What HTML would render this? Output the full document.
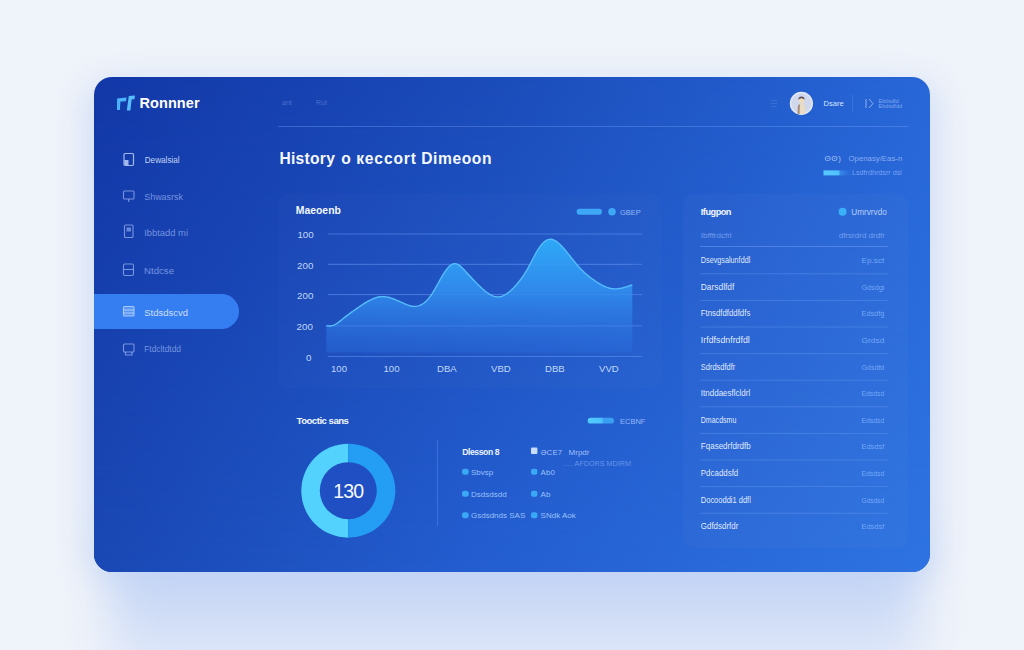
<!DOCTYPE html>
<html><head><meta charset="utf-8">
<style>
*{margin:0;padding:0;box-sizing:border-box}
html,body{width:1024px;height:650px;overflow:hidden}
body{background:#eff3fa;font-family:"Liberation Sans",sans-serif;position:relative}
.glow{position:absolute;left:110px;top:530px;width:810px;height:150px;border-radius:40px;background:linear-gradient(180deg,#b3c9f2 0%,#cddbf6 50%,#e4ebf9 100%);filter:blur(22px)}
.glow2{position:absolute;left:84px;top:80px;width:856px;height:500px;border-radius:30px;background:#d4e0f6;filter:blur(14px)}
.card{position:absolute;left:94px;top:77px;width:836px;height:495px;border-radius:18px;overflow:hidden;
 background:linear-gradient(90deg,rgb(19,56,168) 0%,rgb(27,76,186) 48%,rgb(39,101,214) 96%,rgb(40,103,216) 100%)}
.card2{position:absolute;left:0;top:0;width:100%;height:100%;
 background:linear-gradient(90deg,rgb(26,72,180) 0%,rgb(36,94,208) 46%,rgb(45,113,223) 95%,rgb(46,115,225) 100%);
 -webkit-mask-image:linear-gradient(180deg,rgba(0,0,0,0) 0%,rgba(0,0,0,1) 100%);mask-image:linear-gradient(180deg,rgba(0,0,0,0) 0%,rgba(0,0,0,1) 100%)}
.pill{position:absolute;left:0;top:217px;width:145px;height:35px;border-radius:0 17.5px 17.5px 0;background:#357ef2}
svg.o{position:absolute;left:0;top:0}
svg text{font-family:"Liberation Sans",sans-serif}
</style></head><body>
<div class="glow2"></div>
<div class="glow"></div>
<div class="card"><div class="card2"></div><div class="pill"></div></div>
<svg class="o" width="1024" height="650" viewBox="0 0 1024 650">
<path d="M117.1 98.5 L126.5 97.6 L126 101.3 L120.4 101.6 L119.9 110 L117 110 Z" fill="#4db5ff"/>
<path d="M128.8 96 L135 95.5 L134.4 99.2 L131.6 99.4 L130.4 110.6 L126.8 110.6 Z" fill="#56beff"/>
<text x="139.4" y="108.4" font-size="14.5" font-weight="bold" fill="#ffffff" style="letter-spacing:0.1px">Ronnner</text>
<text x="282" y="104.5" font-size="7" fill="rgba(170,195,255,.35)" font-weight="normal" >ant</text>
<text x="316" y="104.5" font-size="7" fill="rgba(170,195,255,.35)" font-weight="normal" >Rut</text>
<rect x="278" y="126" width="630" height="1" fill="rgba(120,165,255,.35)"/>
<text x="279.4" y="164.3" font-size="15.6" fill="#f4f8ff" font-weight="bold" style="letter-spacing:0.3px">History</text>
<text x="341.2" y="164.3" font-size="15.6" fill="#f4f8ff" font-weight="bold" style="letter-spacing:0px">o</text>
<text x="356.2" y="164.3" font-size="15.6" fill="#f4f8ff" font-weight="bold" style="letter-spacing:0.85px">кeccort</text>
<text x="421.2" y="164.3" font-size="15.6" fill="#f4f8ff" font-weight="bold" style="letter-spacing:0.6px">Dimeoon</text>
<rect x="771" y="100" width="6" height="1" fill="rgba(170,195,255,.18)"/><rect x="771" y="103" width="6" height="1" fill="rgba(170,195,255,.18)"/><rect x="771" y="106" width="6" height="1" fill="rgba(170,195,255,.18)"/>
<circle cx="801.4" cy="103.4" r="11.6" fill="#e3e8f6"/><circle cx="801.4" cy="103.4" r="10.2" fill="#d0d8ee"/>
<path d="M797.5 114 L797.8 106 Q799 103.5 801.5 103.5 Q804 103.5 805 106 L805.3 114 Z" fill="#e9dcc4"/>
<path d="M797.5 114 L797.8 106 Q798.5 104.5 800 104 L799.5 114 Z" fill="#8a6a60" opacity=".7"/>
<ellipse cx="801.5" cy="100.6" rx="2.6" ry="3.2" fill="#ecdcbc"/><path d="M798.4 99.8 Q798.4 96.6 801.5 96.6 Q804.6 96.6 804.6 99.8 Q803.3 98.2 801.5 98.3 Q799.7 98.2 798.4 99.8 Z" fill="#5a4a58"/>
<text x="823.5" y="106" font-size="7.6" fill="#d6e4ff" font-weight="normal" >Dsare</text>
<rect x="852" y="95" width="1" height="17" fill="rgba(130,170,255,.22)"/>
<path d="M866 99 L866 108 M869 99 L873 103.5 L869 108" stroke="rgba(190,210,255,.7)" stroke-width="1" fill="none"/>
<text x="878.5" y="103.3" font-size="5.6" fill="rgba(180,205,255,.65)" font-weight="normal" >Ebtlsdfd</text>
<text x="878.5" y="107.5" font-size="5.6" fill="rgba(180,205,255,.65)" font-weight="normal" >Ebdsdfdd</text>
<text x="824.5" y="160.6" font-size="8" fill="rgba(200,220,255,.85)" font-weight="normal" style="letter-spacing:0.6px">ʘʘ)</text>
<text x="848.5" y="160.6" font-size="7.8" fill="rgba(185,205,255,.7)" font-weight="normal" >Openasy/Eas-n</text>
<defs><linearGradient id="gb" x1="0" x2="1"><stop offset="0" stop-color="#55c9ff"/><stop offset=".56" stop-color="#50c2ff"/><stop offset=".58" stop-color="#3d9af2" stop-opacity=".7"/><stop offset="1" stop-color="#3a8cf0" stop-opacity="0"/></linearGradient></defs>
<rect x="823.5" y="170.4" width="28" height="5" fill="url(#gb)"/>
<text x="852" y="175.4" font-size="7.2" fill="rgba(140,180,255,.8)" font-weight="normal" >Lsdfrdhrdsrr dsl</text>
<rect x="278" y="194" width="383" height="194" rx="10" fill="rgba(255,255,255,.015)"/>
<text x="295.8" y="214.4" font-size="10.4" fill="#f2f7ff" font-weight="bold" style="letter-spacing:0px">Maeoenb</text>
<rect x="576.6" y="208.8" width="25.4" height="5.9" rx="2.95" fill="#3ea8f6"/>
<circle cx="612" cy="211.7" r="3.8" fill="#3ea8f6"/>
<text x="620" y="214.5" font-size="7.5" fill="rgba(180,205,255,.82)" font-weight="normal" >GBEP</text>
<rect x="328" y="233.5" width="314" height="1" fill="rgba(110,160,255,.45)"/>
<rect x="328" y="263.8" width="314" height="1" fill="rgba(110,160,255,.45)"/>
<rect x="328" y="294.1" width="314" height="1" fill="rgba(110,160,255,.45)"/>
<rect x="328" y="325.4" width="314" height="1" fill="rgba(110,160,255,.45)"/>
<rect x="328" y="356.0" width="314" height="1" fill="rgba(110,160,255,.45)"/>
<text x="297.4" y="238" font-size="9.8" fill="rgba(215,230,255,.9)" font-weight="normal" >100</text>
<text x="297" y="268.5" font-size="9.8" fill="rgba(215,230,255,.9)" font-weight="normal" >200</text>
<text x="297" y="299" font-size="9.8" fill="rgba(215,230,255,.9)" font-weight="normal" >200</text>
<text x="296.6" y="330" font-size="9.8" fill="rgba(215,230,255,.9)" font-weight="normal" >200</text>
<text x="306" y="360.8" font-size="9.8" fill="rgba(215,230,255,.9)" font-weight="normal" >0</text>
<text x="331" y="372" font-size="9.6" fill="rgba(215,230,255,.9)" font-weight="normal" >100</text>
<text x="383.5" y="372" font-size="9.6" fill="rgba(215,230,255,.9)" font-weight="normal" >100</text>
<text x="437" y="372" font-size="9.6" fill="rgba(215,230,255,.9)" font-weight="normal" >DBA</text>
<text x="491" y="372" font-size="9.6" fill="rgba(215,230,255,.9)" font-weight="normal" >VBD</text>
<text x="545" y="372" font-size="9.6" fill="rgba(215,230,255,.9)" font-weight="normal" >DBB</text>
<text x="599" y="372" font-size="9.6" fill="rgba(215,230,255,.9)" font-weight="normal" >VVD</text>
<defs><linearGradient id="ga" x1="0" y1="0" x2="0" y2="1"><stop offset="0" stop-color="#2ea8f8"/><stop offset=".45" stop-color="#3089eb"/><stop offset="1" stop-color="#2a6cdc" stop-opacity=".4"/></linearGradient></defs>
<path d="M326.3,325.60 L327.3,325.76 L328.3,325.88 L329.3,325.96 L330.3,325.96 L331.3,325.86 L332.3,325.63 L333.3,325.30 L334.3,324.88 L335.3,324.36 L336.3,323.77 L337.3,323.12 L338.3,322.41 L339.3,321.67 L340.3,320.88 L341.3,320.08 L342.3,319.27 L343.3,318.46 L344.3,317.66 L345.3,316.88 L346.3,316.10 L347.3,315.34 L348.3,314.59 L349.3,313.85 L350.3,313.12 L351.3,312.40 L352.3,311.68 L353.3,310.97 L354.3,310.26 L355.3,309.56 L356.3,308.86 L357.3,308.17 L358.3,307.48 L359.3,306.79 L360.3,306.10 L361.3,305.42 L362.3,304.76 L363.3,304.10 L364.3,303.46 L365.3,302.83 L366.3,302.22 L367.3,301.63 L368.3,301.06 L369.3,300.52 L370.3,300.00 L371.3,299.51 L372.3,299.05 L373.3,298.62 L374.3,298.23 L375.3,297.87 L376.3,297.55 L377.3,297.27 L378.3,297.04 L379.3,296.85 L380.3,296.71 L381.3,296.62 L382.3,296.58 L383.3,296.59 L384.3,296.64 L385.3,296.75 L386.3,296.89 L387.3,297.08 L388.3,297.30 L389.3,297.55 L390.3,297.84 L391.3,298.15 L392.3,298.49 L393.3,298.86 L394.3,299.24 L395.3,299.64 L396.3,300.06 L397.3,300.49 L398.3,300.93 L399.3,301.37 L400.3,301.82 L401.3,302.27 L402.3,302.72 L403.3,303.17 L404.3,303.61 L405.3,304.03 L406.3,304.44 L407.3,304.83 L408.3,305.18 L409.3,305.51 L410.3,305.79 L411.3,306.02 L412.3,306.21 L413.3,306.34 L414.3,306.40 L415.3,306.40 L416.3,306.32 L417.3,306.17 L418.3,305.93 L419.3,305.61 L420.3,305.21 L421.3,304.72 L422.3,304.14 L423.3,303.47 L424.3,302.72 L425.3,301.88 L426.3,300.94 L427.3,299.91 L428.3,298.79 L429.3,297.57 L430.3,296.26 L431.3,294.85 L432.3,293.34 L433.3,291.74 L434.3,290.08 L435.3,288.36 L436.3,286.59 L437.3,284.80 L438.3,282.99 L439.3,281.19 L440.3,279.40 L441.3,277.64 L442.3,275.93 L443.3,274.28 L444.3,272.70 L445.3,271.21 L446.3,269.82 L447.3,268.54 L448.3,267.38 L449.3,266.36 L450.3,265.48 L451.3,264.75 L452.3,264.19 L453.3,263.81 L454.3,263.62 L455.3,263.62 L456.3,263.81 L457.3,264.17 L458.3,264.68 L459.3,265.33 L460.3,266.10 L461.3,266.96 L462.3,267.91 L463.3,268.91 L464.3,269.97 L465.3,271.05 L466.3,272.15 L467.3,273.24 L468.3,274.34 L469.3,275.43 L470.3,276.52 L471.3,277.60 L472.3,278.68 L473.3,279.74 L474.3,280.80 L475.3,281.84 L476.3,282.87 L477.3,283.89 L478.3,284.88 L479.3,285.86 L480.3,286.82 L481.3,287.75 L482.3,288.66 L483.3,289.54 L484.3,290.40 L485.3,291.22 L486.3,292.00 L487.3,292.73 L488.3,293.42 L489.3,294.06 L490.3,294.65 L491.3,295.18 L492.3,295.64 L493.3,296.04 L494.3,296.37 L495.3,296.62 L496.3,296.79 L497.3,296.89 L498.3,296.89 L499.3,296.81 L500.3,296.64 L501.3,296.39 L502.3,296.06 L503.3,295.66 L504.3,295.18 L505.3,294.63 L506.3,294.02 L507.3,293.34 L508.3,292.61 L509.3,291.81 L510.3,290.97 L511.3,290.07 L512.3,289.12 L513.3,288.13 L514.3,287.09 L515.3,286.02 L516.3,284.91 L517.3,283.75 L518.3,282.55 L519.3,281.30 L520.3,280.00 L521.3,278.65 L522.3,277.24 L523.3,275.78 L524.3,274.26 L525.3,272.67 L526.3,271.03 L527.3,269.32 L528.3,267.54 L529.3,265.70 L530.3,263.81 L531.3,261.89 L532.3,259.95 L533.3,258.03 L534.3,256.13 L535.3,254.27 L536.3,252.46 L537.3,250.74 L538.3,249.11 L539.3,247.60 L540.3,246.20 L541.3,244.92 L542.3,243.77 L543.3,242.74 L544.3,241.84 L545.3,241.08 L546.3,240.44 L547.3,239.94 L548.3,239.57 L549.3,239.35 L550.3,239.27 L551.3,239.32 L552.3,239.51 L553.3,239.82 L554.3,240.24 L555.3,240.77 L556.3,241.40 L557.3,242.12 L558.3,242.92 L559.3,243.80 L560.3,244.75 L561.3,245.76 L562.3,246.82 L563.3,247.92 L564.3,249.06 L565.3,250.24 L566.3,251.45 L567.3,252.68 L568.3,253.93 L569.3,255.19 L570.3,256.46 L571.3,257.73 L572.3,259.00 L573.3,260.26 L574.3,261.51 L575.3,262.74 L576.3,263.95 L577.3,265.12 L578.3,266.27 L579.3,267.37 L580.3,268.45 L581.3,269.48 L582.3,270.49 L583.3,271.46 L584.3,272.40 L585.3,273.32 L586.3,274.20 L587.3,275.06 L588.3,275.89 L589.3,276.69 L590.3,277.48 L591.3,278.24 L592.3,278.97 L593.3,279.69 L594.3,280.39 L595.3,281.07 L596.3,281.73 L597.3,282.37 L598.3,283.00 L599.3,283.60 L600.3,284.18 L601.3,284.74 L602.3,285.27 L603.3,285.77 L604.3,286.24 L605.3,286.67 L606.3,287.08 L607.3,287.44 L608.3,287.77 L609.3,288.06 L610.3,288.30 L611.3,288.51 L612.3,288.66 L613.3,288.77 L614.3,288.83 L615.3,288.85 L616.3,288.83 L617.3,288.77 L618.3,288.67 L619.3,288.53 L620.3,288.37 L621.3,288.18 L622.3,287.95 L623.3,287.71 L624.3,287.44 L625.3,287.15 L626.3,286.85 L627.3,286.53 L628.3,286.20 L629.3,285.86 L630.3,285.51 L631.3,285.16 L632.3,284.80 L632.3,352.5 L326.3,352.5 Z" fill="url(#ga)" transform="translate(0,0)" />
<path d="M326.3,325.60 L327.3,325.76 L328.3,325.88 L329.3,325.96 L330.3,325.96 L331.3,325.86 L332.3,325.63 L333.3,325.30 L334.3,324.88 L335.3,324.36 L336.3,323.77 L337.3,323.12 L338.3,322.41 L339.3,321.67 L340.3,320.88 L341.3,320.08 L342.3,319.27 L343.3,318.46 L344.3,317.66 L345.3,316.88 L346.3,316.10 L347.3,315.34 L348.3,314.59 L349.3,313.85 L350.3,313.12 L351.3,312.40 L352.3,311.68 L353.3,310.97 L354.3,310.26 L355.3,309.56 L356.3,308.86 L357.3,308.17 L358.3,307.48 L359.3,306.79 L360.3,306.10 L361.3,305.42 L362.3,304.76 L363.3,304.10 L364.3,303.46 L365.3,302.83 L366.3,302.22 L367.3,301.63 L368.3,301.06 L369.3,300.52 L370.3,300.00 L371.3,299.51 L372.3,299.05 L373.3,298.62 L374.3,298.23 L375.3,297.87 L376.3,297.55 L377.3,297.27 L378.3,297.04 L379.3,296.85 L380.3,296.71 L381.3,296.62 L382.3,296.58 L383.3,296.59 L384.3,296.64 L385.3,296.75 L386.3,296.89 L387.3,297.08 L388.3,297.30 L389.3,297.55 L390.3,297.84 L391.3,298.15 L392.3,298.49 L393.3,298.86 L394.3,299.24 L395.3,299.64 L396.3,300.06 L397.3,300.49 L398.3,300.93 L399.3,301.37 L400.3,301.82 L401.3,302.27 L402.3,302.72 L403.3,303.17 L404.3,303.61 L405.3,304.03 L406.3,304.44 L407.3,304.83 L408.3,305.18 L409.3,305.51 L410.3,305.79 L411.3,306.02 L412.3,306.21 L413.3,306.34 L414.3,306.40 L415.3,306.40 L416.3,306.32 L417.3,306.17 L418.3,305.93 L419.3,305.61 L420.3,305.21 L421.3,304.72 L422.3,304.14 L423.3,303.47 L424.3,302.72 L425.3,301.88 L426.3,300.94 L427.3,299.91 L428.3,298.79 L429.3,297.57 L430.3,296.26 L431.3,294.85 L432.3,293.34 L433.3,291.74 L434.3,290.08 L435.3,288.36 L436.3,286.59 L437.3,284.80 L438.3,282.99 L439.3,281.19 L440.3,279.40 L441.3,277.64 L442.3,275.93 L443.3,274.28 L444.3,272.70 L445.3,271.21 L446.3,269.82 L447.3,268.54 L448.3,267.38 L449.3,266.36 L450.3,265.48 L451.3,264.75 L452.3,264.19 L453.3,263.81 L454.3,263.62 L455.3,263.62 L456.3,263.81 L457.3,264.17 L458.3,264.68 L459.3,265.33 L460.3,266.10 L461.3,266.96 L462.3,267.91 L463.3,268.91 L464.3,269.97 L465.3,271.05 L466.3,272.15 L467.3,273.24 L468.3,274.34 L469.3,275.43 L470.3,276.52 L471.3,277.60 L472.3,278.68 L473.3,279.74 L474.3,280.80 L475.3,281.84 L476.3,282.87 L477.3,283.89 L478.3,284.88 L479.3,285.86 L480.3,286.82 L481.3,287.75 L482.3,288.66 L483.3,289.54 L484.3,290.40 L485.3,291.22 L486.3,292.00 L487.3,292.73 L488.3,293.42 L489.3,294.06 L490.3,294.65 L491.3,295.18 L492.3,295.64 L493.3,296.04 L494.3,296.37 L495.3,296.62 L496.3,296.79 L497.3,296.89 L498.3,296.89 L499.3,296.81 L500.3,296.64 L501.3,296.39 L502.3,296.06 L503.3,295.66 L504.3,295.18 L505.3,294.63 L506.3,294.02 L507.3,293.34 L508.3,292.61 L509.3,291.81 L510.3,290.97 L511.3,290.07 L512.3,289.12 L513.3,288.13 L514.3,287.09 L515.3,286.02 L516.3,284.91 L517.3,283.75 L518.3,282.55 L519.3,281.30 L520.3,280.00 L521.3,278.65 L522.3,277.24 L523.3,275.78 L524.3,274.26 L525.3,272.67 L526.3,271.03 L527.3,269.32 L528.3,267.54 L529.3,265.70 L530.3,263.81 L531.3,261.89 L532.3,259.95 L533.3,258.03 L534.3,256.13 L535.3,254.27 L536.3,252.46 L537.3,250.74 L538.3,249.11 L539.3,247.60 L540.3,246.20 L541.3,244.92 L542.3,243.77 L543.3,242.74 L544.3,241.84 L545.3,241.08 L546.3,240.44 L547.3,239.94 L548.3,239.57 L549.3,239.35 L550.3,239.27 L551.3,239.32 L552.3,239.51 L553.3,239.82 L554.3,240.24 L555.3,240.77 L556.3,241.40 L557.3,242.12 L558.3,242.92 L559.3,243.80 L560.3,244.75 L561.3,245.76 L562.3,246.82 L563.3,247.92 L564.3,249.06 L565.3,250.24 L566.3,251.45 L567.3,252.68 L568.3,253.93 L569.3,255.19 L570.3,256.46 L571.3,257.73 L572.3,259.00 L573.3,260.26 L574.3,261.51 L575.3,262.74 L576.3,263.95 L577.3,265.12 L578.3,266.27 L579.3,267.37 L580.3,268.45 L581.3,269.48 L582.3,270.49 L583.3,271.46 L584.3,272.40 L585.3,273.32 L586.3,274.20 L587.3,275.06 L588.3,275.89 L589.3,276.69 L590.3,277.48 L591.3,278.24 L592.3,278.97 L593.3,279.69 L594.3,280.39 L595.3,281.07 L596.3,281.73 L597.3,282.37 L598.3,283.00 L599.3,283.60 L600.3,284.18 L601.3,284.74 L602.3,285.27 L603.3,285.77 L604.3,286.24 L605.3,286.67 L606.3,287.08 L607.3,287.44 L608.3,287.77 L609.3,288.06 L610.3,288.30 L611.3,288.51 L612.3,288.66 L613.3,288.77 L614.3,288.83 L615.3,288.85 L616.3,288.83 L617.3,288.77 L618.3,288.67 L619.3,288.53 L620.3,288.37 L621.3,288.18 L622.3,287.95 L623.3,287.71 L624.3,287.44 L625.3,287.15 L626.3,286.85 L627.3,286.53 L628.3,286.20 L629.3,285.86 L630.3,285.51 L631.3,285.16 L632.3,284.80" stroke="#55bdfd" stroke-width="1.4" fill="none"/>
<rect x="328" y="263.8" width="304" height="1" fill="rgba(140,190,255,.1)"/>
<rect x="328" y="294.1" width="304" height="1" fill="rgba(140,190,255,.1)"/>
<rect x="328" y="325.4" width="304" height="1" fill="rgba(140,190,255,.1)"/>
<text x="296.5" y="423.8" font-size="9.6" fill="#f2f7ff" font-weight="bold" style="letter-spacing:-0.5px">Tooctic sans</text>
<defs><linearGradient id="gb2" x1="0" x2="1"><stop offset="0" stop-color="#52ccff"/><stop offset=".55" stop-color="#4cc0ff"/><stop offset=".6" stop-color="#3a9ff0"/><stop offset="1" stop-color="#3a9ff0"/></linearGradient></defs>
<rect x="587.7" y="417.7" width="26.3" height="5.9" rx="2.95" fill="url(#gb2)"/>
<text x="620" y="423.5" font-size="7.5" fill="rgba(180,205,255,.82)" font-weight="normal" >ECBNF</text>
<path d="M348.3,443.7 A47,47 0 0 0 348.3,537.7 Z" fill="#52d2fc"/>
<path d="M348.3,443.7 A47,47 0 0 1 348.3,537.7 Z" fill="#249ef5"/>
<circle cx="348.3" cy="490.7" r="28.5" fill="#1f4fc2"/>
<text x="348.3" y="498.2" font-size="19.5" fill="#f4f8ff" font-weight="normal" text-anchor="middle" style="letter-spacing:-0.8px">130</text>
<rect x="437" y="440" width="1" height="86" fill="rgba(120,165,255,.3)"/>
<text x="462.2" y="454.5" font-size="8.6" fill="#eef4ff" font-weight="bold" style="letter-spacing:-0.4px">Dlesson 8</text>
<rect x="531" y="447.5" width="6.4" height="6.4" rx="1" fill="#c8dcff"/>
<text x="540.6" y="454.5" font-size="8" fill="rgba(190,210,255,.85)" font-weight="normal" >ƏCE7</text>
<text x="568.6" y="454.5" font-size="8" fill="rgba(190,210,255,.85)" font-weight="normal" >Mrpdr</text>
<text x="563" y="466" font-size="7.2" fill="rgba(150,185,255,.6)" font-weight="normal" >..... AFDORS MDIRM</text>
<rect x="462" y="468.7" width="6.7" height="6" rx="2.5" fill="#3aa8f5"/>
<text x="471" y="474.7" font-size="8" fill="rgba(165,205,255,.92)" font-weight="normal" >Sbvsp</text>
<rect x="531" y="468.7" width="6.4" height="6" rx="2" fill="#3aa8f5"/>
<text x="540.6" y="474.7" font-size="8" fill="rgba(165,205,255,.92)" font-weight="normal" >Ab0</text>
<rect x="462" y="490.7" width="6.7" height="6" rx="2.5" fill="#3aa8f5"/>
<text x="471" y="496.7" font-size="8" fill="rgba(165,205,255,.92)" font-weight="normal" >Dsdsdsdd</text>
<rect x="531" y="490.7" width="6.4" height="6" rx="2" fill="#3aa8f5"/>
<text x="540.6" y="496.7" font-size="8" fill="rgba(165,205,255,.92)" font-weight="normal" >Ab</text>
<rect x="462" y="512.3000000000001" width="6.7" height="6" rx="2.5" fill="#3aa8f5"/>
<text x="471" y="518.3000000000001" font-size="8" fill="rgba(165,205,255,.92)" font-weight="normal" >Gsdsdnds SAS</text>
<rect x="531" y="512.3000000000001" width="6.4" height="6" rx="2" fill="#3aa8f5"/>
<text x="540.6" y="518.3000000000001" font-size="8" fill="rgba(165,205,255,.92)" font-weight="normal" >SNdk  Aok</text>
<rect x="683" y="194" width="225" height="354" rx="11" fill="rgba(255,255,255,.025)"/>
<text x="700.8" y="214.6" font-size="9.2" fill="#f2f7ff" font-weight="bold" style="letter-spacing:-0.5px">Ifugpon</text>
<circle cx="842.6" cy="211.7" r="4" fill="#3ab0f8"/>
<text x="851.3" y="214.5" font-size="8.2" fill="rgba(205,222,255,.9)" font-weight="normal" >Umrvrvdo</text>
<text x="700.8" y="238.3" font-size="8" fill="rgba(150,185,250,.7)" font-weight="normal" >Ibfffrdcfrl</text>
<text x="885" y="238.3" font-size="8" fill="rgba(150,185,250,.7)" font-weight="normal" text-anchor="end">dfrsrdrd drdfr</text>
<rect x="700" y="246" width="188" height="1" fill="rgba(130,175,255,.4)"/>
<text x="700.8" y="263.1" font-size="8.2" fill="rgba(240,246,255,.95)" font-weight="normal" textLength="49.5" lengthAdjust="spacingAndGlyphs">Dsevgsalunfddl</text>
<text x="861.5" y="263.1" font-size="8" fill="rgba(130,180,255,.85)" font-weight="normal" textLength="22.8" lengthAdjust="spacingAndGlyphs">Ep.sct</text>
<rect x="700" y="273.3" width="188" height="1" fill="rgba(130,175,255,.28)"/>
<text x="700.8" y="289.70000000000005" font-size="8.2" fill="rgba(240,246,255,.95)" font-weight="normal" textLength="33.5" lengthAdjust="spacingAndGlyphs">Darsdlfdf</text>
<text x="861.5" y="289.70000000000005" font-size="8" fill="rgba(130,180,255,.85)" font-weight="normal" textLength="22.8" lengthAdjust="spacingAndGlyphs">Gdsdgi</text>
<rect x="700" y="299.90000000000003" width="188" height="1" fill="rgba(130,175,255,.28)"/>
<text x="700.8" y="316.3" font-size="8.2" fill="rgba(240,246,255,.95)" font-weight="normal" textLength="49.5" lengthAdjust="spacingAndGlyphs">Ftnsdfdfddfdfs</text>
<text x="861.5" y="316.3" font-size="8" fill="rgba(130,180,255,.85)" font-weight="normal" textLength="22.8" lengthAdjust="spacingAndGlyphs">Edsdfg</text>
<rect x="700" y="326.5" width="188" height="1" fill="rgba(130,175,255,.28)"/>
<text x="700.8" y="342.90000000000003" font-size="8.2" fill="rgba(240,246,255,.95)" font-weight="normal" textLength="49" lengthAdjust="spacingAndGlyphs">Irfdfsdnfrdfdl</text>
<text x="861.5" y="342.90000000000003" font-size="8" fill="rgba(130,180,255,.85)" font-weight="normal" textLength="22.8" lengthAdjust="spacingAndGlyphs">Grdsd</text>
<rect x="700" y="353.1" width="188" height="1" fill="rgba(130,175,255,.28)"/>
<text x="700.8" y="369.5" font-size="8.2" fill="rgba(240,246,255,.95)" font-weight="normal" textLength="34.5" lengthAdjust="spacingAndGlyphs">Sdrdsdfdfr</text>
<text x="861.5" y="369.5" font-size="8" fill="rgba(130,180,255,.85)" font-weight="normal" textLength="22.8" lengthAdjust="spacingAndGlyphs">Gdsdfd</text>
<rect x="700" y="379.7" width="188" height="1" fill="rgba(130,175,255,.28)"/>
<text x="700.8" y="396.1" font-size="8.2" fill="rgba(240,246,255,.95)" font-weight="normal" textLength="49.5" lengthAdjust="spacingAndGlyphs">Itnddaesflcldrl</text>
<text x="861.5" y="396.1" font-size="8" fill="rgba(130,180,255,.85)" font-weight="normal" textLength="22.8" lengthAdjust="spacingAndGlyphs">Edsdsd</text>
<rect x="700" y="406.3" width="188" height="1" fill="rgba(130,175,255,.28)"/>
<text x="700.8" y="422.70000000000005" font-size="8.2" fill="rgba(240,246,255,.95)" font-weight="normal" textLength="35.5" lengthAdjust="spacingAndGlyphs">Dmacdsmu</text>
<text x="861.5" y="422.70000000000005" font-size="8" fill="rgba(130,180,255,.85)" font-weight="normal" textLength="22.8" lengthAdjust="spacingAndGlyphs">Edsdsd</text>
<rect x="700" y="432.90000000000003" width="188" height="1" fill="rgba(130,175,255,.28)"/>
<text x="700.8" y="449.30000000000007" font-size="8.2" fill="rgba(240,246,255,.95)" font-weight="normal" textLength="50" lengthAdjust="spacingAndGlyphs">Fqasedrfdrdfb</text>
<text x="861.5" y="449.30000000000007" font-size="8" fill="rgba(130,180,255,.85)" font-weight="normal" textLength="22.8" lengthAdjust="spacingAndGlyphs">Edsdsf</text>
<rect x="700" y="459.50000000000006" width="188" height="1" fill="rgba(130,175,255,.28)"/>
<text x="700.8" y="475.90000000000003" font-size="8.2" fill="rgba(240,246,255,.95)" font-weight="normal" textLength="37.5" lengthAdjust="spacingAndGlyphs">Pdcaddsfd</text>
<text x="861.5" y="475.90000000000003" font-size="8" fill="rgba(130,180,255,.85)" font-weight="normal" textLength="22.8" lengthAdjust="spacingAndGlyphs">Edsdsd</text>
<rect x="700" y="486.1" width="188" height="1" fill="rgba(130,175,255,.28)"/>
<text x="700.8" y="502.5" font-size="8.2" fill="rgba(240,246,255,.95)" font-weight="normal" textLength="50" lengthAdjust="spacingAndGlyphs">Docooddi1 ddfl</text>
<text x="861.5" y="502.5" font-size="8" fill="rgba(130,180,255,.85)" font-weight="normal" textLength="22.8" lengthAdjust="spacingAndGlyphs">Gdsdsd</text>
<rect x="700" y="512.6999999999999" width="188" height="1" fill="rgba(130,175,255,.28)"/>
<text x="700.8" y="529.1" font-size="8.2" fill="rgba(240,246,255,.95)" font-weight="normal" textLength="37.5" lengthAdjust="spacingAndGlyphs">Gdfdsdrfdr</text>
<text x="861.5" y="529.1" font-size="8" fill="rgba(130,180,255,.85)" font-weight="normal" textLength="22.8" lengthAdjust="spacingAndGlyphs">Edsdsf</text>
<text x="144.7" y="163.1" font-size="9.6" fill="rgba(215,228,255,.9)" font-weight="normal" textLength="35" lengthAdjust="spacingAndGlyphs">Dewalsial</text>
<text x="144.2" y="200.1" font-size="9.6" fill="rgba(165,190,248,.68)" font-weight="normal" textLength="38.8" lengthAdjust="spacingAndGlyphs">Shwasrsk</text>
<text x="144.2" y="235.6" font-size="9.6" fill="rgba(165,190,248,.68)" font-weight="normal" textLength="43.8" lengthAdjust="spacingAndGlyphs">Ibbtadd mi</text>
<text x="144" y="273.6" font-size="9.6" fill="rgba(165,190,248,.68)" font-weight="normal" textLength="30" lengthAdjust="spacingAndGlyphs">Ntdcse</text>
<text x="144.2" y="315.6" font-size="9.6" fill="rgba(225,236,255,.9)" font-weight="normal" textLength="43.8" lengthAdjust="spacingAndGlyphs">Stdsdscvd</text>
<text x="144.2" y="352.1" font-size="9.6" fill="rgba(165,190,248,.68)" font-weight="normal" textLength="36.8" lengthAdjust="spacingAndGlyphs">Ftdcltdtdd</text>
<rect x="124" y="153.5" width="9.5" height="12" rx="1.2" stroke="rgba(200,218,255,.8)" stroke-width="1.2" fill="none"/><rect x="124.5" y="160" width="4" height="5" fill="rgba(200,218,255,.8)"/>
<rect x="123.5" y="191" width="10.5" height="8" rx="1" stroke="rgba(160,185,245,.7)" stroke-width="1.1" fill="none"/><path d="M128.7 199 V202" stroke="rgba(160,185,245,.7)" stroke-width="1.1"/>
<rect x="124.5" y="225" width="8.5" height="12.5" rx="1" stroke="rgba(160,185,245,.7)" stroke-width="1.1" fill="none"/><rect x="126.5" y="227.5" width="4.5" height="4" fill="rgba(160,185,245,.6)"/>
<rect x="123.5" y="264" width="10" height="11.5" rx="1.5" stroke="rgba(160,185,245,.7)" stroke-width="1.1" fill="none"/><path d="M123.5 269.5 H133.5" stroke="rgba(160,185,245,.7)" stroke-width="1.1"/>
<rect x="123.5" y="306.5" width="10.5" height="9.5" rx="1" stroke="rgba(200,220,255,.75)" stroke-width="1.1" fill="rgba(200,220,255,.25)"/><path d="M123.5 310 H134 M123.5 313 H134" stroke="rgba(200,220,255,.75)" stroke-width="1"/>
<rect x="123.5" y="344" width="10.5" height="8" rx="1" stroke="rgba(160,185,245,.7)" stroke-width="1.1" fill="none"/><path d="M125.5 352 V355 H132 V352" stroke="rgba(160,185,245,.7)" stroke-width="1.1" fill="none"/>
</svg>
</body></html>
